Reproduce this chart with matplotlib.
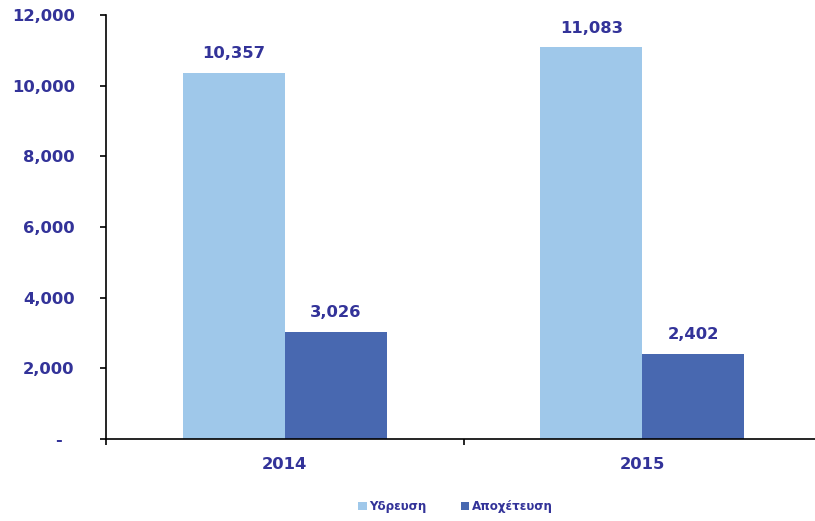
import matplotlib
matplotlib.use('Agg')
import matplotlib.pyplot as plt
import numpy as np
from matplotlib.ticker import FuncFormatter

# === DATA ===
years = ['2014', '2015']
ydreusi = [10357, 11083]
apoxeteusi = [3026, 2402]
series_names = ['Υδρευση', 'Αποχέτευση']

# === STYLE ===
TXT = '#333399'
LIGHT = '#9FC8EA'
DARK = '#4868B0'
FS = 11.8
plt.rcParams['font.family'] = ['DejaVu Sans']

fig = plt.figure(figsize=(8.15, 5.21), dpi=100)
ax = fig.add_axes([106 / 815, 82 / 521, 715 / 815, 424 / 521])

x = np.arange(len(years))
w = 0.285
b1 = ax.bar(x - w / 2, ydreusi, w, color=LIGHT, label=series_names[0])
b2 = ax.bar(x + w / 2, apoxeteusi, w, color=DARK, label=series_names[1])

for bars in (b1, b2):
    for r in bars:
        ax.text(r.get_x() + r.get_width() / 2, r.get_height() + 330,
                f'{r.get_height():,.0f}', ha='center', va='bottom',
                color=TXT, fontsize=FS, fontweight='bold')

ax.set_xlim(-0.5, 1.5)
ax.set_ylim(0, 12000)
ax.set_yticks(range(0, 12001, 2000))
# accounting-style dash for zero, sits a bit left of the numbers
ax.yaxis.set_major_formatter(FuncFormatter(lambda v, p: '-  ' if v == 0 else f'{v:,.0f}'))

# category boundaries as ticks, labels in the middle
ax.set_xticks([-0.5, 0.5, 1.5])
ax.set_xticklabels([])
ax.set_xticks(x, minor=True)
ax.set_xticklabels(years, minor=True)
ax.tick_params(axis='x', which='minor', length=0, pad=13)
ax.tick_params(axis='x', which='major', length=4.5, width=1.2)
ax.tick_params(axis='y', length=4.5, width=1.2, pad=18)

for lab in ax.get_yticklabels() + ax.get_xticklabels(minor=True):
    lab.set_color(TXT)
    lab.set_fontweight('bold')
    lab.set_fontsize(FS)

ax.spines['top'].set_visible(False)
ax.spines['right'].set_visible(False)
ax.spines['left'].set_linewidth(1.2)
ax.spines['bottom'].set_linewidth(1.2)

leg = fig.legend(loc='center', bbox_to_anchor=(0.559, 0.027), ncol=2, frameon=False,
                 handlelength=0.7, handleheight=0.7, handletextpad=0.2,
                 columnspacing=2.9, prop={'size': 8.6, 'weight': 'bold'})
for t in leg.get_texts():
    t.set_color(TXT)

fig.savefig('out.png', dpi=100)
